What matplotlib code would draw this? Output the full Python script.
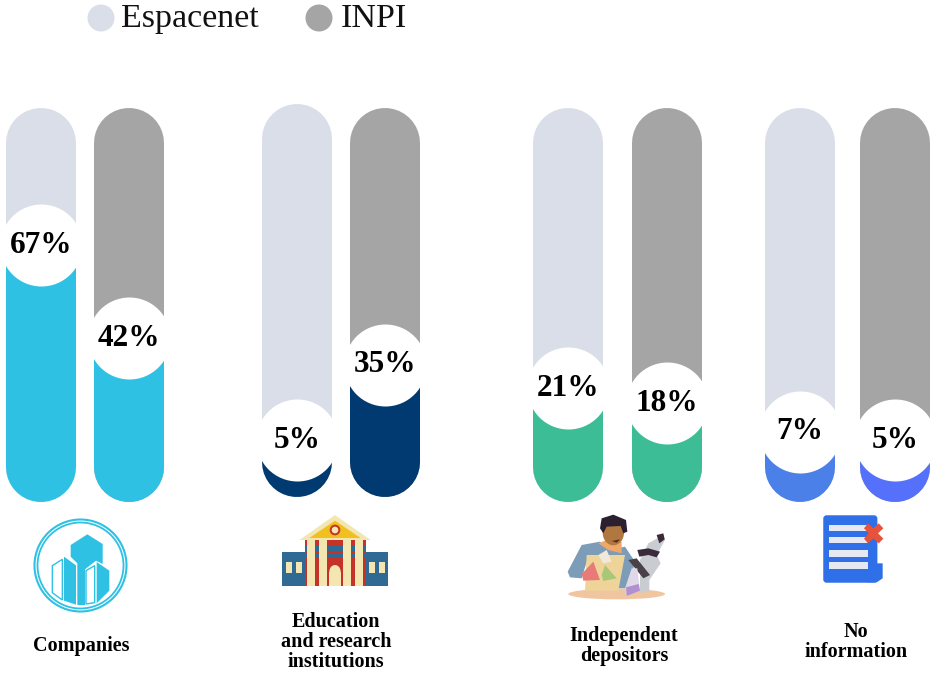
import matplotlib
matplotlib.use("Agg")
import matplotlib.pyplot as plt
from matplotlib.patches import Polygon, Circle, Rectangle, Ellipse, FancyBboxPatch

# ---------- data ----------
categories = ["Companies", "Education\nand research\ninstitutions", "Independent\ndepositors", "No\ninformation"]
series_names = ["Espacenet", "INPI"]
espacenet_pct = [67, 5, 21, 7]
inpi_pct = [42, 35, 18, 5]
# drawn height of each fill, in % of the track (the picture's fills are not proportional to the labels)
espacenet_level = [65.2, 15.7, 28.9, 17.8]
inpi_level = [41.6, 34.8, 25.1, 15.7]

# ---------- style / layout ----------
espacenet_x = [41, 297, 568, 800]
inpi_x = [129, 385, 667, 895]
espacenet_tops = [100, 101, 100, 100]
inpi_tops = [100, 100, 100, 100]
espacenet_bottoms = [0, 1.3, 0, 0]
inpi_bottoms = [0, 1.3, 0, 0]
espacenet_colors = ["#2EC1E4", "#003A70", "#3DBD96", "#4A80E8"]
inpi_colors = ["#2EC1E4", "#003A70", "#3DBD96", "#5570FB"]
track_colors = ["#DADEE8", "#A5A5A5"]
SERIF = "Liberation Serif"
label_x = [81, 336, 624, 856]
label_y = [646, 642, 646, 642]

W, H = 935, 677
fig = plt.figure(figsize=(W / 100, H / 100), dpi=100, facecolor="white")
ax = fig.add_axes([0, 0, 1, 1])
PX = 100 / 394            # level units per pixel
ax.set_xlim(0, W)
ax.set_ylim((502 - H) * PX, 502 * PX)
ax.axis("off")

BAR_LW = 70 * 0.72
CAP = 35 * PX


def pill(x, lo, hi, color, z):
    ax.plot([x, x], [lo + CAP, hi - CAP], color=color, lw=BAR_LW,
            solid_capstyle="round", zorder=z)


for xs, pcts, levels, cols, track, tops, bots in [
    (espacenet_x, espacenet_pct, espacenet_level, espacenet_colors, track_colors[0], espacenet_tops, espacenet_bottoms),
    (inpi_x, inpi_pct, inpi_level, inpi_colors, track_colors[1], inpi_tops, inpi_bottoms),
]:
    for x, p, lev, c, t, b in zip(xs, pcts, levels, cols, tops, bots):
        pill(x, b, t, track, 1)
        ax.plot([x, x], [b + CAP, lev], color=c, lw=BAR_LW, solid_capstyle="round", zorder=2)
        ax.scatter([x], [lev], s=(82 * 0.72) ** 2, color="white", linewidths=0, zorder=3)
        ax.text(x, lev, f"{p}%", ha="center", va="center", family=SERIF,
                fontweight="bold", fontsize=22.5, color="black", zorder=4)

# ---------- pixel overlay for legend, captions and pictograms ----------
ov = fig.add_axes([0, 0, 1, 1], facecolor="none")
ov.set_xlim(0, W)
ov.set_ylim(H, 0)
ov.axis("off")

for cx, name, tx, col in zip([101, 319], series_names, [121, 341], track_colors):
    ov.add_patch(Circle((cx, 18), 13.5, color=col, lw=0))
    ov.text(tx, 27, name, family=SERIF, fontsize=24.5, color="#111111", ha="left", va="baseline")

for x, y, cat in zip(label_x, label_y, categories):
    ov.text(x, y, cat, family=SERIF, fontweight="bold", fontsize=14.5, ha="center",
            va="center", linespacing=1.02, color="black")


def zoomed(pts, ox, oy=500):
    return [(ox + a / 3, oy + b / 3) for a, b in pts]


def poly(pts, color, ox, z=5, **kw):
    ov.add_patch(Polygon(zoomed(pts, ox), closed=True, facecolor=color, edgecolor=kw.get("ec", "none"),
                         linewidth=kw.get("lw", 0), zorder=z))


def rect(a0, b0, a1, b1, color, ox, z=5):
    poly([(a0, b0), (a1, b0), (a1, b1), (a0, b1)], color, ox, z)


def ell(a, b, w, h, color, ox, z=5, angle=0):
    (cx, cy) = zoomed([(a, b)], ox)[0]
    ov.add_patch(Ellipse((cx, cy), w / 3, h / 3, angle=angle, facecolor=color, edgecolor="none", zorder=z))


# companies icon
CY = "#2EC1E4"
ov.add_patch(Circle((80.5, 565.5), 46, facecolor="none", edgecolor=CY, lw=1.5, zorder=5))
ov.add_patch(Circle((80.5, 565.5), 43, facecolor="none", edgecolor=CY, lw=1.3, zorder=5))
poly([(212, 135), (262, 103), (308, 132), (308, 192), (288, 182), (255, 208), (255, 315), (232, 315), (232, 190), (212, 170)], CY, 0)
poly([(157, 197), (187, 178), (187, 300), (157, 278)], "white", 0, ec=CY, lw=1)
poly([(192, 170), (228, 196), (228, 314), (192, 302)], CY, 0)
poly([(258, 212), (284, 197), (284, 308), (258, 312)], "white", 0, ec=CY, lw=1)
poly([(290, 186), (328, 212), (328, 272), (290, 310)], CY, 0)

# building icon
BL, RD, CR, YL = "#2E6A94", "#C43228", "#F3E6B0", "#F0C020"
rect(845, 155, 1165, 257, BL, 0)
rect(915, 120, 1097, 257, RD, 0, 6)
rect(915, 135, 1097, 155, BL, 0, 7)
rect(915, 162, 1097, 172, BL, 0, 7)
for a in (922, 958, 1030, 1066):
    rect(a, 120, a + 22, 257, CR, 0, 8)
poly([(898, 120), (1005, 45), (1112, 120)], CR, 0, 9)
poly([(928, 114), (1005, 62), (1082, 114)], YL, 0, 10)
ell(1005, 90, 32, 32, RD, 0, 11)
ell(1005, 90, 20, 20, CR, 0, 12)
rect(988, 215, 1022, 257, CR, 0, 8)
ell(1005, 215, 34, 40, CR, 0, 8)
for a in (858, 887, 1106, 1136):
    rect(a, 185, a + 18, 220, CR, 0, 8)

# depositor icon
OX = 500
ell(350, 282, 290, 32, "#EFC6A0", OX, 5)
poly([(255, 272), (260, 165), (375, 165), (355, 272)], "#EFD49A", OX, 7)
poly([(203, 215), (245, 135), (300, 125), (330, 150), (375, 140), (405, 185), (385, 265), (355, 265), (350, 170), (265, 170), (245, 235), (210, 232)], "#7C9CB8", OX, 6)
poly([(295, 130), (320, 120), (365, 125), (365, 160), (325, 150)], "#F0A868", OX, 8)
ell(340, 98, 64, 76, "#B07840", OX, 9)
poly([(300, 85), (305, 55), (340, 44), (378, 60), (382, 95), (370, 100), (362, 78), (320, 80), (310, 100)], "#2C2030", OX, 10)
poly([(335, 123), (360, 118), (350, 128)], "#5A2A20", OX, 11)
poly([(280, 185), (300, 240), (250, 242), (245, 222)], "#E87B78", OX, 9)
poly([(315, 195), (350, 235), (310, 243), (305, 225)], "#A8C878", OX, 9)
poly([(295, 165), (320, 150), (335, 185), (310, 190)], "#EFE9DC", OX, 10)
poly([(395, 205), (412, 205), (420, 270), (378, 288), (376, 262)], "#E0D8E8", OX, 11)
poly([(378, 262), (416, 252), (420, 272), (380, 288)], "#B090D0", OX, 12)
poly([(420, 180), (445, 130), (490, 105), (495, 120), (470, 165), (482, 190), (448, 240), (448, 275), (420, 278)], "#C9CDD2", OX, 8)
poly([(470, 105), (490, 100), (494, 118), (478, 130)], "#3A2A3A", OX, 9)
poly([(412, 150), (445, 145), (480, 155), (470, 172), (445, 165), (418, 170)], "#3A2A3A", OX, 9)
poly([(385, 180), (410, 175), (450, 225), (430, 235)], "#4A4048", OX, 10)

# no-information icon
ov.add_patch(FancyBboxPatch((500 + 974 / 3, 500 + 50 / 3), 154 / 3, 194 / 3,
                            boxstyle="round,pad=0,rounding_size=2", facecolor="#2F6FE8",
                            edgecolor="#2F6FE8", lw=2, zorder=5))
poly([(1100, 190), (1148, 190), (1148, 235), (1130, 247), (1100, 247)], "#2F6FE8", OX, 5)
for b0, b1 in [(75, 93), (112, 130), (150, 170), (187, 207)]:
    rect(988, b0, 1105, b1, "#E6E9F2", OX, 6)
poly([(1104, 70), (1120, 85), (1136, 70), (1150, 85), (1134, 100), (1150, 116), (1136, 130), (1120, 115), (1104, 130), (1092, 116), (1106, 100), (1092, 85)], "#E5533D", OX, 7)

fig.savefig("out.png", dpi=100, facecolor="white")
